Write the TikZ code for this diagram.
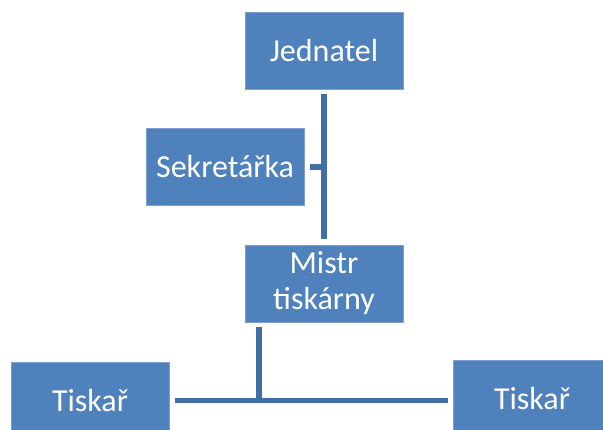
\documentclass[tikz,border=0pt]{standalone}
\usepackage{fontspec}
\setmainfont{Carlito}
\usetikzlibrary{calc}
\definecolor{boxblue}{RGB}{79,129,189}
\definecolor{edgeblue}{RGB}{126,160,208}
\definecolor{lineblue}{RGB}{65,111,163}

\begin{document}
\begin{tikzpicture}[x=1pt,y=-1pt,
  role/.style={fill=boxblue,draw=edgeblue,line width=0.6pt,minimum width=158pt,minimum height=77pt,
    outer sep=5.5pt,text=white,align=center,font=\fontsize{32}{36}\selectfont},
  link/.style={draw=lineblue,line width=5.5pt}]
  \useasboundingbox (0,0) rectangle (603,430);
  % vedeni
  \node[role] (jed) at (324,50.5) {Jednatel};
  \node[role] (sek) at (225,167) {Sekretářka};
  \node[role] (mistr) at (324,283.5) {Mistr\\tiskárny};
  % tiskari
  \node[role] (tisk1) at (90,400.5) {Tiskař};
  \node[role] (tisk2) at (532,398.5) {Tiskař};
  \coordinate (trunk) at (sek -| jed);
  \coordinate (fork) at (259,400.5);
  % spojnice
  \draw[link] (jed) -- (mistr);
  \draw[link] (sek.east) -- (trunk);
  \draw[link] (mistr.south -| fork) -- (fork);
  \draw[link] (tisk1.east |- fork) -- (tisk2.west |- fork);
\end{tikzpicture}
\end{document}
